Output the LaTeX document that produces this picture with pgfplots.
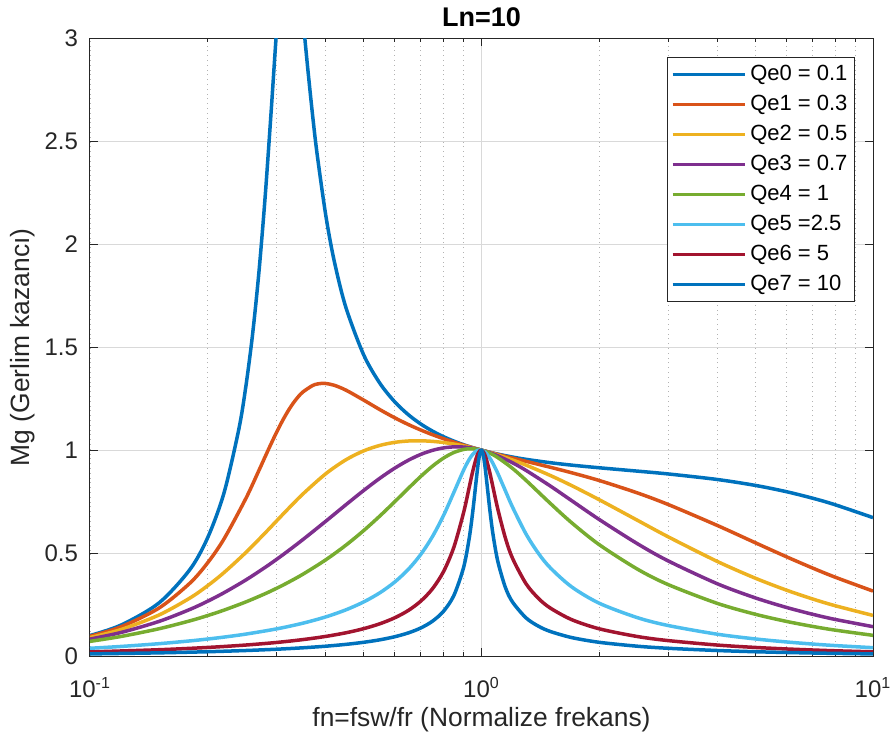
\documentclass[border=0pt]{standalone}
\usepackage{fontspec}
\setmainfont{Liberation Sans}
\usepackage{pgfplots}
\pgfplotsset{compat=1.18}
\definecolor{m1}{HTML}{0072BD}
\definecolor{m2}{HTML}{D95319}
\definecolor{m3}{HTML}{EDB120}
\definecolor{m4}{HTML}{7E2F8E}
\definecolor{m5}{HTML}{77AC30}
\definecolor{m6}{HTML}{4DBEEE}
\definecolor{m7}{HTML}{A2142F}
\definecolor{axgray}{HTML}{262626}
\begin{document}
\begin{tikzpicture}
\path[use as bounding box] (-45pt,-44pt) rectangle (401.5pt,328pt);
\begin{axis}[
  scale only axis, width=391.5pt, height=308.75pt,
  at={(0,0)}, anchor=south west,
  xmode=log, xmin=0.1, xmax=10, ymin=0, ymax=3,
  xtick={0.1,1,10},
  xticklabels={10\textsuperscript{-1},10\textsuperscript{0},10\textsuperscript{1}},
  ytick={0,0.5,1,1.5,2,2.5,3},
  yticklabels={0,0.5,1,1.5,2,2.5,3},
  tick align=inside, major tick length=4pt, minor tick length=2pt,
  axis line style={color=axgray, line width=0.5pt},
  every tick/.style={color=axgray, line width=0.5pt},
  xmajorgrids, ymajorgrids, xminorgrids,
  major grid style={color=black!15, line width=0.5pt},
  minor grid style={color=black!30, dotted, line width=0.4pt},
  ticklabel style={font=\fontsize{12}{14}\selectfont, color=axgray},
  yticklabel style={xshift=-2.5pt},
  xticklabel style={anchor=base, yshift=-20.5pt},
  every axis title shift=0pt,
  title={Ln=10},
  title style={font=\bfseries\fontsize{13.5}{16}\selectfont, at={(axis description cs:0.5,1.0348)}, anchor=center, color=black},
  xlabel={fn=fsw/fr (Normalize frekans)},
  ylabel={Mg (Gerlim kazancı)},
  label style={font=\fontsize{13.2}{16}\selectfont, color=axgray},
  xlabel style={at={(axis description cs:0.5,-0.1036)}, anchor=center},
  ylabel style={at={(axis description cs:-0.0856,0.5)}, anchor=center},
  legend cell align=left,
  legend image code/.code={\draw[#1] (0pt,0pt) -- (36pt,0pt);},
  legend style={at={(axis description cs:0.977,0.970)}, anchor=north east,
    draw=axgray, line width=0.5pt, fill=white, font=\fontsize{11}{13}\selectfont,
    inner xsep=1.5pt, inner ysep=2pt, row sep=1.8pt,
    nodes={inner sep=2pt, text=black}},
  every axis plot/.append style={line width=1.75pt, line join=round, smooth, tension=0.5},
]
\addplot[m1] coordinates {(0.1,0.0995)(0.12,0.1502)(0.15,0.2576)(0.18,0.4202)(0.2,0.5766)(0.22,0.7930)(0.24,1.1022)(0.25,1.3074)(0.26,1.5575)(0.27,1.8617)(0.28,2.2247)(0.29,2.6364)(0.3,3.0535)(0.31,3.3893)(0.32,3.5498)(0.33,3.5101)(0.34,3.3307)(0.35,3.0930)(0.36,2.8530)(0.37,2.6342)(0.38,2.4440)(0.4,2.1432)(0.42,1.9244)(0.45,1.6959)(0.5,1.4634)(0.55,1.3253)(0.6,1.2353)(0.65,1.1727)(0.7,1.1270)(0.75,1.0924)(0.8,1.0654)(0.85,1.0440)(0.9,1.0265)(0.95,1.0121)(1,1)(1.05,0.9897)(1.1,0.9809)(1.2,0.9666)(1.3,0.9554)(1.5,0.9390)(1.7,0.9273)(2,0.9144)(2.5,0.8982)(3,0.8844)(4,0.8576)(5,0.8290)(6,0.7986)(7,0.7670)(8,0.7350)(10,0.6723)};
\addlegendentry{Qe0 = 0.1}
\addplot[m2] coordinates {(0.1,0.0959)(0.12,0.1419)(0.15,0.2327)(0.18,0.3541)(0.2,0.4540)(0.22,0.5692)(0.25,0.7647)(0.27,0.9010)(0.28,0.9673)(0.29,1.0304)(0.3,1.0889)(0.31,1.1417)(0.32,1.1878)(0.33,1.2268)(0.34,1.2585)(0.35,1.2831)(0.37,1.3137)(0.38,1.3211)(0.39,1.3242)(0.4,1.3239)(0.42,1.3157)(0.45,1.2921)(0.5,1.2433)(0.55,1.1970)(0.6,1.1575)(0.65,1.1248)(0.7,1.0977)(0.75,1.0751)(0.8,1.0558)(0.85,1.0392)(0.9,1.0246)(0.95,1.0117)(1,1)(1.05,0.9894)(1.1,0.9795)(1.2,0.9617)(1.3,0.9457)(1.5,0.9168)(1.7,0.8902)(2,0.8525)(2.5,0.7925)(3,0.7358)(4,0.6344)(5,0.5506)(6,0.4828)(7,0.4279)(8,0.3831)(10,0.3154)};
\addlegendentry{Qe1 = 0.3}
\addplot[m3] coordinates {(0.1,0.0896)(0.12,0.1286)(0.15,0.1990)(0.18,0.2817)(0.2,0.3422)(0.22,0.4055)(0.25,0.5025)(0.28,0.5974)(0.3,0.6572)(0.32,0.7129)(0.35,0.7874)(0.4,0.8852)(0.45,0.9528)(0.5,0.9966)(0.55,1.0231)(0.6,1.0379)(0.65,1.0445)(0.7,1.0455)(0.75,1.0427)(0.8,1.0372)(0.85,1.0297)(0.9,1.0208)(0.95,1.0108)(1,1)(1.05,0.9886)(1.1,0.9768)(1.2,0.9523)(1.3,0.9272)(1.5,0.8768)(1.7,0.8277)(2,0.7590)(2.5,0.6597)(3,0.5788)(4,0.4596)(5,0.3784)(6,0.3205)(7,0.2775)(8,0.2445)(10,0.1971)};
\addlegendentry{Qe2 = 0.5}
\addplot[m4] coordinates {(0.1,0.0822)(0.12,0.1142)(0.15,0.1679)(0.18,0.2263)(0.2,0.2666)(0.22,0.3076)(0.25,0.3692)(0.28,0.4303)(0.3,0.4702)(0.32,0.5093)(0.35,0.5660)(0.4,0.6545)(0.45,0.7342)(0.5,0.8040)(0.55,0.8635)(0.6,0.9123)(0.65,0.9508)(0.7,0.9796)(0.75,0.9993)(0.8,1.0111)(0.85,1.0160)(0.9,1.0151)(0.95,1.0095)(1,1)(1.05,0.9875)(1.1,0.9728)(1.2,0.9387)(1.3,0.9014)(1.5,0.8255)(1.7,0.7546)(2,0.6628)(2.5,0.5459)(3,0.4617)(4,0.3512)(5,0.2827)(6,0.2364)(7,0.2030)(8,0.1778)(10,0.1425)};
\addlegendentry{Qe3 = 0.7}
\addplot[m5] coordinates {(0.1,0.0711)(0.12,0.0949)(0.15,0.1323)(0.18,0.1708)(0.2,0.1968)(0.22,0.2230)(0.25,0.2626)(0.28,0.3025)(0.3,0.3294)(0.32,0.3565)(0.35,0.3975)(0.4,0.4671)(0.45,0.5378)(0.5,0.6092)(0.55,0.6802)(0.6,0.7492)(0.65,0.8142)(0.7,0.8727)(0.75,0.9226)(0.8,0.9616)(0.85,0.9887)(0.9,1.0035)(0.93,1.0067)(0.95,1.0067)(0.97,1.0051)(1,1)(1.05,0.9852)(1.1,0.9643)(1.2,0.9115)(1.3,0.8530)(1.5,0.7409)(1.7,0.6473)(2,0.5405)(2.5,0.4224)(3,0.3467)(4,0.2558)(5,0.2030)(6,0.1684)(7,0.1440)(8,0.1257)(10,0.1004)};
\addlegendentry{Qe4 = 1}
\addplot[m6] coordinates {(0.1,0.0375)(0.12,0.0464)(0.15,0.0598)(0.18,0.0733)(0.2,0.0825)(0.22,0.0919)(0.25,0.1064)(0.3,0.1319)(0.35,0.1595)(0.4,0.1899)(0.45,0.2239)(0.5,0.2626)(0.55,0.3071)(0.6,0.3591)(0.65,0.4206)(0.7,0.4939)(0.75,0.5811)(0.8,0.6829)(0.85,0.7949)(0.9,0.9027)(0.93,0.9546)(0.95,0.9797)(0.97,0.9954)(0.98,0.9995)(0.99,1.0010)(1,1)(1.01,0.9966)(1.02,0.9909)(1.03,0.9831)(1.05,0.9621)(1.07,0.9354)(1.1,0.8885)(1.15,0.8041)(1.2,0.7237)(1.3,0.5920)(1.4,0.4969)(1.5,0.4277)(1.7,0.3357)(2,0.2562)(2.5,0.1865)(3,0.1480)(4,0.1059)(5,0.0830)(6,0.0684)(7,0.0582)(8,0.0507)(10,0.0404)};
\addlegendentry{Qe5 =2.5}
\addplot[m7] coordinates {(0.1,0.0198)(0.15,0.0305)(0.2,0.0416)(0.25,0.0533)(0.3,0.0659)(0.35,0.0798)(0.4,0.0952)(0.45,0.1126)(0.5,0.1328)(0.55,0.1566)(0.6,0.1854)(0.65,0.2211)(0.7,0.2668)(0.75,0.3272)(0.8,0.4103)(0.85,0.5284)(0.9,0.6963)(0.93,0.8184)(0.95,0.8982)(0.97,0.9627)(0.98,0.9845)(0.99,0.9972)(1,1)(1.01,0.9929)(1.02,0.9769)(1.03,0.9534)(1.05,0.8912)(1.07,0.8201)(1.1,0.7161)(1.15,0.5753)(1.2,0.4751)(1.3,0.3506)(1.4,0.2788)(1.5,0.2326)(1.7,0.1766)(2,0.1320)(2.5,0.0947)(3,0.0748)(4,0.0532)(5,0.0416)(6,0.0343)(7,0.0292)(8,0.0254)(10,0.0202)};
\addlegendentry{Qe6 = 5}
\addplot[m1] coordinates {(0.1,0.0101)(0.15,0.0153)(0.2,0.0208)(0.25,0.0267)(0.3,0.0330)(0.35,0.0399)(0.4,0.0476)(0.45,0.0564)(0.5,0.0666)(0.55,0.0787)(0.6,0.0935)(0.65,0.1121)(0.7,0.1363)(0.75,0.1694)(0.8,0.2176)(0.85,0.2939)(0.9,0.4301)(0.93,0.5702)(0.95,0.7020)(0.97,0.8583)(0.98,0.9308)(0.99,0.9825)(1,1)(1.01,0.9787)(1.02,0.9263)(1.03,0.8567)(1.05,0.7118)(1.07,0.5911)(1.1,0.4621)(1.15,0.3348)(1.2,0.2625)(1.3,0.1849)(1.4,0.1441)(1.5,0.1190)(1.7,0.0895)(2,0.0665)(2.5,0.0476)(3,0.0375)(4,0.0267)(5,0.0208)(6,0.0171)(7,0.0146)(8,0.0127)(10,0.0101)};
\addlegendentry{Qe7 = 10}
\end{axis}
\end{tikzpicture}
\end{document}
